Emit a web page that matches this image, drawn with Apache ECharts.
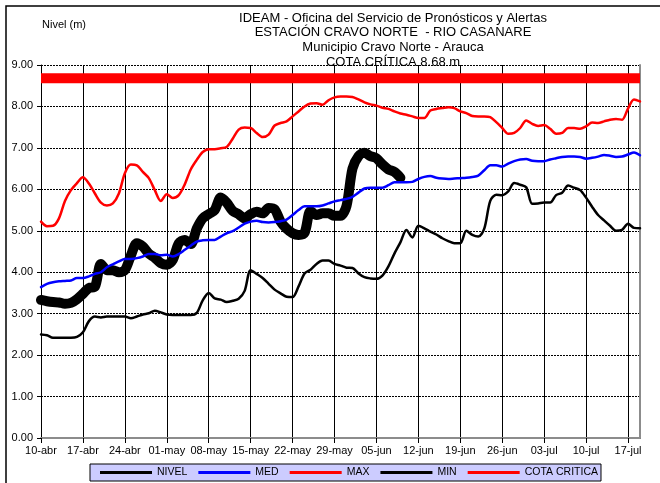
<!DOCTYPE html>
<html>
<head>
<meta charset="utf-8">
<script src="https://cdn.jsdelivr.net/npm/echarts@6/dist/echarts.min.js"></script>
<style>
  html, body { margin: 0; padding: 0; background: #fff; }
  #chart { width: 660px; height: 483px; }
</style>
</head>
<body>
<div id="chart"></div>
<script>
// Daily levels of the Casanare river at Cravo Norte, 10-abr to 19-jul (101 days)
const MESES = ['ene', 'feb', 'mar', 'abr', 'may', 'jun', 'jul', 'ago', 'sep', 'oct', 'nov', 'dic'];
const START = { month: 3, day: 10 };
const N_DAYS = 101;

// NIVEL: observed level (stops on 09-jun)
const nivel = [
  3.33, 3.30, 3.28, 3.27, 3.24, 3.26, 3.35, 3.48, 3.62, 3.65,
  4.20, 4.05, 4.05, 4.00, 4.05, 4.40, 4.70, 4.62, 4.45, 4.35,
  4.22, 4.18, 4.30, 4.70, 4.78, 4.68, 5.05, 5.30, 5.40, 5.50,
  5.80, 5.68, 5.48, 5.40, 5.30, 5.40, 5.46, 5.42, 5.55, 5.52,
  5.22, 5.05, 4.94, 4.90, 4.95, 5.48, 5.38, 5.42, 5.42, 5.36,
  5.36, 5.60, 6.50, 6.80, 6.88, 6.80, 6.75, 6.60, 6.48, 6.42,
  6.28
];

// MED: historical mean level
const med = [
  3.64, 3.72, 3.76, 3.78, 3.79, 3.80, 3.86, 3.86, 3.90, 3.96,
  4.00, 4.12, 4.19, 4.26, 4.32, 4.32, 4.34, 4.38, 4.44, 4.44,
  4.41, 4.42, 4.38, 4.44, 4.54, 4.64, 4.74, 4.77, 4.78, 4.78,
  4.86, 4.94, 4.99, 5.08, 5.17, 5.22, 5.24, 5.21, 5.20, 5.21,
  5.23, 5.27, 5.38, 5.50, 5.59, 5.59, 5.59, 5.61, 5.66, 5.71,
  5.74, 5.77, 5.82, 5.92, 6.02, 6.04, 6.04, 6.04, 6.10, 6.17,
  6.17, 6.17, 6.18, 6.25, 6.30, 6.32, 6.28, 6.26, 6.25, 6.26,
  6.27, 6.28, 6.30, 6.33, 6.46, 6.58, 6.58, 6.55, 6.62, 6.68,
  6.72, 6.73, 6.69, 6.68, 6.68, 6.72, 6.75, 6.78, 6.79, 6.79,
  6.78, 6.74, 6.76, 6.79, 6.83, 6.81, 6.78, 6.79, 6.84, 6.89,
  6.82
];

// MAX: historical maximum level
const max = [
  5.22, 5.11, 5.12, 5.30, 5.72, 5.98, 6.15, 6.29, 6.14, 5.90,
  5.68, 5.61, 5.66, 5.90, 6.39, 6.60, 6.58, 6.42, 6.27, 5.98,
  5.72, 5.88, 5.79, 5.86, 6.12, 6.48, 6.71, 6.90, 6.97, 6.97,
  6.99, 7.02, 7.22, 7.44, 7.49, 7.48, 7.36, 7.26, 7.32, 7.54,
  7.60, 7.64, 7.76, 7.88, 8.00, 8.07, 8.08, 8.04, 8.15, 8.22,
  8.24, 8.24, 8.23, 8.17, 8.10, 8.05, 8.02, 7.97, 7.94, 7.88,
  7.83, 7.80, 7.76, 7.72, 7.72, 7.90, 7.94, 7.96, 7.98, 7.96,
  7.88, 7.84, 7.77, 7.76, 7.76, 7.74, 7.62, 7.48, 7.34, 7.36,
  7.48, 7.66, 7.58, 7.53, 7.55, 7.46, 7.34, 7.36, 7.48, 7.48,
  7.46, 7.52, 7.61, 7.60, 7.64, 7.68, 7.70, 7.68, 7.95, 8.17,
  8.12
];

// MIN: historical minimum level
const min = [
  2.50, 2.48, 2.42, 2.42, 2.42, 2.42, 2.44, 2.55, 2.82, 2.93,
  2.91, 2.93, 2.93, 2.93, 2.93, 2.89, 2.93, 2.98, 3.01, 3.07,
  3.03, 2.98, 2.97, 2.97, 2.97, 2.97, 3.02, 3.32, 3.50, 3.37,
  3.34, 3.28, 3.31, 3.36, 3.55, 4.05, 3.96, 3.86, 3.72, 3.58,
  3.49, 3.41, 3.40, 3.66, 3.97, 4.06, 4.20, 4.28, 4.28, 4.20,
  4.16, 4.11, 4.10, 3.97, 3.88, 3.85, 3.84, 3.92, 4.14, 4.45,
  4.72, 5.02, 4.84, 5.12, 5.06, 4.98, 4.91, 4.82, 4.75, 4.70,
  4.70, 5.00, 4.90, 4.86, 5.05, 5.72, 5.87, 5.86, 5.95, 6.15,
  6.11, 6.05, 5.65, 5.66, 5.68, 5.68, 5.86, 5.92, 6.09, 6.04,
  5.98, 5.80, 5.58, 5.38, 5.25, 5.12, 5.00, 5.02, 5.17, 5.07,
  5.06
];

// Critical level of the station
const COTA_CRITICA = 8.68;

// Y axis ticks
const Y_MIN = 0, Y_MAX = 9, Y_STEP = 1;

function buildDays(start, n) {
  const out = [];
  const d0 = Date.UTC(2024, start.month, start.day);
  for (let i = 0; i < n; i++) {
    const d = new Date(d0 + i * 86400000);
    const dd = String(d.getUTCDate()).padStart(2, '0');
    out.push(dd + '-' + MESES[d.getUTCMonth()]);
  }
  return out;
}
const dias = buildDays(START, N_DAYS);
const cota = dias.map(() => COTA_CRITICA);

const FONT = 'Liberation Sans, Arial, sans-serif';
const chart = echarts.init(document.getElementById('chart'), null, { renderer: 'canvas' });

const lineSeries = (name, data, color, width) => ({
  name, type: 'line', data, smooth: 0.3, symbol: 'none',
  xAxisIndex: 0, yAxisIndex: 0,
  lineStyle: { color, width, cap: 'round', join: 'round' },
  itemStyle: { color },
  emphasis: { disabled: true }
});

chart.setOption({
  animation: false,
  backgroundColor: '#ffffff',
  textStyle: { fontFamily: FONT, color: '#000' },
  graphic: [{
    type: 'rect', silent: true, z: -10,
    shape: { x: 6, y: 6, width: 700, height: 520 },
    style: { fill: 'none', stroke: '#000', lineWidth: 1.5 }
  }],
  title: [{
    text: 'IDEAM - Oficina del Servicio de Pronósticos y Alertas\nESTACIÓN CRAVO NORTE  - RIO CASANARE\nMunicipio Cravo Norte - Arauca\nCOTA CRÍTICA 8.68 m',
    left: 388, top: 6, textAlign: 'center',
    textStyle: { fontFamily: FONT, fontSize: 13, fontWeight: 'normal', color: '#000', lineHeight: 14.6 }
  }, {
    text: 'Nivel (m)',
    left: 37, top: 14,
    textStyle: { fontFamily: FONT, fontSize: 11, fontWeight: 'normal', color: '#000' }
  }],
  legend: {
    show: true,
    left: 90, top: 464,
    orient: 'horizontal',
    padding: [3, 3, 3, 10],
    backgroundColor: '#ccccff',
    borderColor: '#000', borderWidth: 1, borderRadius: 0,
    itemWidth: 52, itemHeight: 3, itemGap: 11,
    icon: 'rect',
    textStyle: { fontFamily: FONT, fontSize: 10.5, color: '#000' },
    data: ['NIVEL', 'MED', 'MAX', 'MIN', 'COTA CRITICA']
  },
  grid: { left: 41, right: 20, top: 65, bottom: 45, containLabel: false },
  xAxis: [{
    type: 'category', data: dias, boundaryGap: false,
    axisLine: { lineStyle: { color: '#000', width: 1 } },
    axisTick: { interval: 6, length: 5, lineStyle: { color: '#000' } },
    axisLabel: { interval: 6, fontFamily: FONT, fontSize: 11, color: '#000', margin: 7 },
    splitLine: { show: true, interval: 6, lineStyle: { color: '#000', width: 1 } }
  }, {
    type: 'category', data: dias, boundaryGap: false, position: 'top',
    axisLine: { lineStyle: { color: '#8c8c8c', width: 2 } },
    axisTick: { show: false }, axisLabel: { show: false }, splitLine: { show: false }
  }],
  yAxis: [{
    type: 'value', min: Y_MIN, max: Y_MAX, interval: Y_STEP,
    axisLine: { show: true, lineStyle: { color: '#000', width: 1 } },
    axisTick: { show: true, length: 4, lineStyle: { color: '#000' } },
    axisLabel: { fontFamily: FONT, fontSize: 11, color: '#000', margin: 8,
      formatter: v => v.toFixed(2) },
    splitLine: { show: true, lineStyle: { color: '#000', width: 1, type: [2, 1] } }
  }, {
    type: 'value', min: Y_MIN, max: Y_MAX, interval: Y_STEP, position: 'right',
    axisLine: { show: true, lineStyle: { color: '#8c8c8c', width: 2 } },
    axisTick: { show: false }, axisLabel: { show: false }, splitLine: { show: false }
  }],
  series: [
    lineSeries('NIVEL', nivel, '#000000', 10),
    lineSeries('MED', med, '#0000ff', 2.5),
    lineSeries('MAX', max, '#ff0000', 2.5),
    lineSeries('MIN', min, '#000000', 2.5),
    Object.assign(lineSeries('COTA CRITICA', cota, '#ff0000', 10), { smooth: false, lineStyle: { color: '#ff0000', width: 10, cap: 'butt' } })
  ]
});
</script>
</body>
</html>
